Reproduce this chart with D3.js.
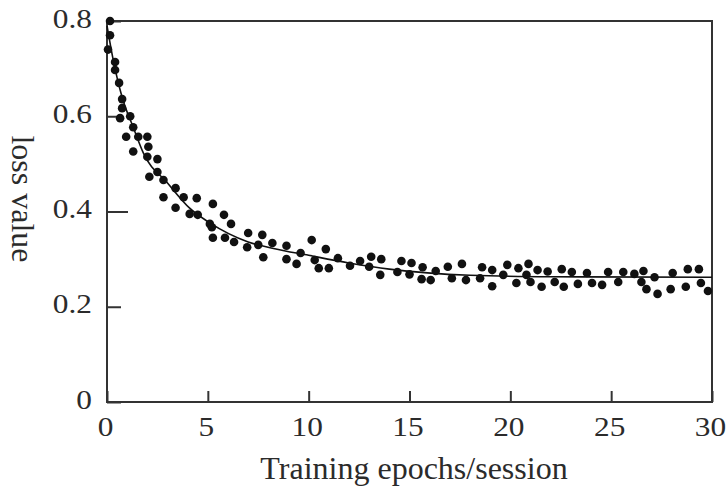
<!DOCTYPE html>
<html>
<head>
<meta charset="utf-8">
<script src="https://cdn.jsdelivr.net/npm/d3@7"></script>
<style>
  body { margin: 0; background: #fff; }
  svg text { font-family: "Liberation Serif", "Times New Roman", serif; fill: #2b2b2b; }
</style>
</head>
<body>
<svg id="chart"></svg>
<script>
// scattered loss values per training epoch
const epochs = [0.05, 0.15, 0.15, 0.4, 0.4, 0.6, 0.65, 0.75, 0.75, 0.95, 1.15, 1.3, 1.3, 1.55, 2.0, 2.05, 2.0, 2.1,
  2.5, 2.5, 2.8, 2.8, 3.4, 3.4, 3.8, 4.1, 4.45, 4.5, 5.1, 5.2, 5.25, 5.25, 5.8, 5.85, 6.15, 6.3, 6.95, 7.0,
  7.5, 7.7, 7.75, 8.2, 8.9, 8.9, 9.4, 9.6, 10.15, 10.3, 10.5, 10.85, 11.0, 11.45, 12.05, 12.55, 13.0, 13.1,
  13.55, 13.6, 14.4, 14.6, 15.0, 15.1, 15.6, 15.65, 16.05, 16.3, 16.9, 17.1, 17.6, 17.8, 18.5, 18.6, 19.1,
  19.1, 19.65, 19.85, 20.3, 20.4, 20.8, 20.9, 21.0, 21.35, 21.55, 21.85, 22.2, 22.55, 22.65, 23.05, 23.35,
  23.8, 24.05, 24.55, 24.85, 25.35, 25.6, 26.15, 26.5, 26.6, 26.75, 27.15, 27.3, 27.95, 28.05, 28.7, 28.8,
  29.35, 29.45, 29.8];
const loss = [0.74, 0.80, 0.77, 0.714, 0.697, 0.67, 0.596, 0.636, 0.617, 0.557, 0.60, 0.577, 0.526, 0.557, 0.557, 0.536, 0.515, 0.473,
  0.51, 0.483, 0.466, 0.43, 0.449, 0.408, 0.43, 0.395, 0.428, 0.393, 0.374, 0.367, 0.416, 0.345, 0.393, 0.345, 0.374, 0.336, 0.325, 0.355,
  0.33, 0.351, 0.304, 0.334, 0.328, 0.30, 0.29, 0.313, 0.34, 0.298, 0.281, 0.321, 0.281, 0.302, 0.286, 0.296, 0.284, 0.305,
  0.267, 0.30, 0.273, 0.296, 0.268, 0.292, 0.258, 0.283, 0.256, 0.275, 0.284, 0.26, 0.29, 0.256, 0.26, 0.283, 0.277,
  0.243, 0.267, 0.288, 0.25, 0.281, 0.267, 0.29, 0.252, 0.277, 0.242, 0.274, 0.252, 0.279, 0.242, 0.273, 0.248,
  0.271, 0.25, 0.246, 0.273, 0.252, 0.273, 0.269, 0.252, 0.275, 0.237, 0.262, 0.227, 0.237, 0.271, 0.242, 0.279,
  0.279, 0.25, 0.233];

// fitted curve, points
const fitEpochs = [0, 0.3, 0.75, 1.3, 1.8, 3, 4.1, 5.1, 7, 8.2, 10, 12, 14, 18, 22, 30];
const fitLoss = [0.79, 0.72, 0.64, 0.577, 0.523, 0.46, 0.407, 0.376, 0.336, 0.323, 0.308, 0.292, 0.279, 0.266, 0.263, 0.262];

const xTicks = [0, 5, 10, 15, 20, 25, 30];
const yTicks = [0, 0.2, 0.4, 0.6, 0.8];

const width = 727, height = 491;
const plotLeft = 107, plotRight = 712, plotTop = 21, plotBottom = 402;

const svg = d3.select("#chart").attr("width", width).attr("height", height);

const x = d3.scaleLinear().domain([0, 30]).range([plotLeft, plotRight]);
const y = d3.scaleLinear().domain([0, 0.8]).range([plotBottom, plotTop]);

const axisColor = "#333";

// frame
svg.append("rect")
  .attr("x", plotLeft).attr("y", plotTop)
  .attr("width", plotRight - plotLeft).attr("height", plotBottom - plotTop)
  .attr("fill", "none").attr("stroke", axisColor).attr("stroke-width", 2);

const xAxis = svg.append("g")
  .attr("transform", `translate(0,${plotBottom})`)
  .call(d3.axisBottom(x).tickValues(xTicks).tickSizeInner(-11).tickSizeOuter(0).tickPadding(28).tickFormat(d3.format("d")));

const yAxis = svg.append("g")
  .attr("transform", `translate(${plotLeft},0)`)
  .call(d3.axisLeft(y).tickValues(yTicks).tickSizeInner(-14).tickSizeOuter(0).tickPadding(15)
    .tickFormat(d => d === 0 ? "0" : d.toFixed(1)));

[xAxis, yAxis].forEach(g => {
  g.select(".domain").remove();
  g.selectAll(".tick line").attr("stroke", axisColor).attr("stroke-width", 2);
  g.selectAll(".tick text").attr("font-size", 28).attr("fill", "#2b2b2b")
    .style("font-family", '"Liberation Serif", "Times New Roman", serif')
    .style("transform-box", "fill-box")
    .style("transform", "scaleX(1.12)");
});
xAxis.selectAll(".tick text").attr("dy", "0.2em").attr("dx", -2).style("transform-origin", "center");
yAxis.selectAll(".tick text").attr("dy", "0.22em").style("transform-origin", "right center");
yAxis.selectAll(".tick line").filter(d => d === 0.4).attr("x2", 21);

// fitted line
const line = d3.line()
  .x((d, i) => x(fitEpochs[i]))
  .y((d, i) => y(fitLoss[i]))
  .curve(d3.curveMonotoneX);

svg.append("path")
  .datum(fitEpochs)
  .attr("d", line)
  .attr("fill", "none")
  .attr("stroke", "#111")
  .attr("stroke-width", 1.6);

// points
svg.append("g")
  .selectAll("circle")
  .data(epochs)
  .enter().append("circle")
  .attr("cx", (d, i) => x(d))
  .attr("cy", (d, i) => y(loss[i]))
  .attr("r", 4.3)
  .attr("fill", "#111");

// axis titles
svg.append("text")
  .attr("x", 414).attr("y", 479)
  .attr("text-anchor", "middle")
  .attr("font-size", 32)
  .text("Training epochs/session");

svg.append("text")
  .attr("transform", "translate(12,199) rotate(90)")
  .attr("text-anchor", "middle")
  .attr("font-size", 32)
  .text("loss value");
</script>
</body>
</html>
